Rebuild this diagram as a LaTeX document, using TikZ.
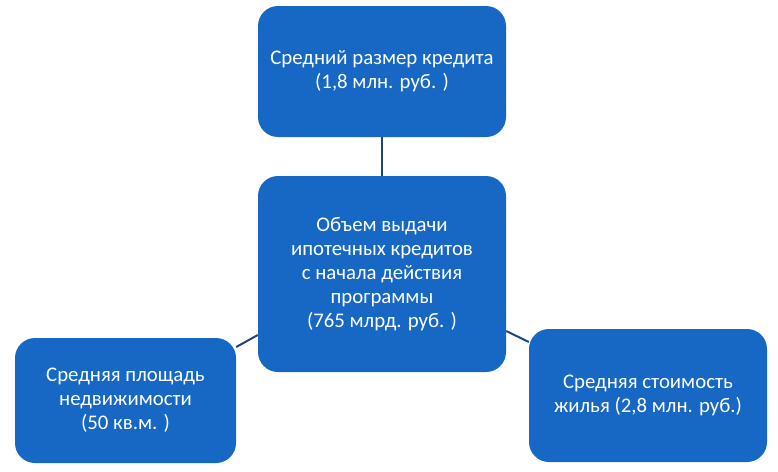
\documentclass[tikz,border=0pt]{standalone}
\usepackage{fontspec}
\setmainfont{Carlito}
\definecolor{boxblue}{RGB}{22,104,196}
\definecolor{linkblue}{RGB}{30,70,120}
\begin{document}
\begin{tikzpicture}[x=1pt,y=-1pt,
  box/.style={draw=none,fill=boxblue,rounded corners=20pt,text=white,align=center,
    font=\fontsize{20.8pt}{24pt}\selectfont,inner sep=0pt},
  link/.style={draw=linkblue,line width=2pt}]
\useasboundingbox (0,0) rectangle (778,471);
\node[box,minimum width=248pt,minimum height=131pt] (top) at (382,71.5) {Средний размер кредита\\(1,8 млн. руб. )};
\node[box,minimum width=248pt,minimum height=196pt] (mid) at (382,274) {Объем выдачи\\ипотечных кредитов\\с начала действия\\программы\\(765 млрд. руб. )};
\node[box,minimum width=221pt,minimum height=125pt] (left) at (125.5,400.5) {Средняя площадь\\недвижимости\\(50 кв.м. )};
\node[box,minimum width=238pt,minimum height=133pt] (right) at (648,395.5) {Средняя стоимость\\жилья (2,8 млн. руб.)};
\draw[link] (top.south) -- (mid.north);
\draw[link] (left.east |- 0,347) -- (mid.west |- 0,335);
\draw[link] (mid.east |- 0,331) -- (right.west |- 0,342);
\end{tikzpicture}
\end{document}
